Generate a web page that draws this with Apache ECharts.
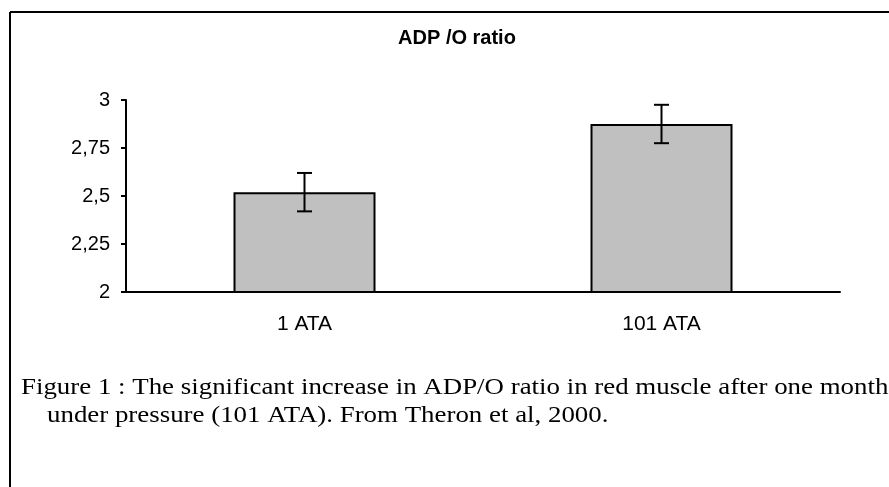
<!DOCTYPE html>
<html>
<head>
<meta charset="utf-8">
<script src="https://cdn.jsdelivr.net/npm/echarts@6/dist/echarts.min.js"></script>
<style>
  html, body { margin: 0; padding: 0; background: #fff; }
  #chart { width: 889px; height: 487px; }
</style>
</head>
<body>
<div id="chart"></div>
<script>
// ADP/O ratio by pressure group, mean and error
var categories = ['1 ATA', '101 ATA'];
var means = [2.52, 2.875];
var errors = [0.10, 0.10];
var yTicks = [2, 2.25, 2.5, 2.75, 3];

var titleText = 'ADP /O ratio';
var captionLines = [
  'Figure 1 : The significant increase in ADP/O ratio in red muscle after one month',
  'under pressure (101 ATA). From Theron et al, 2000.'
];

var errorData = means.map(function (m, i) { return [i, m - errors[i], m + errors[i]]; });

var sans = '"Liberation Sans", Arial, sans-serif';
var serif = '"Liberation Serif", "Times New Roman", serif';

var chart = echarts.init(document.getElementById('chart'), null, { renderer: 'canvas' });

chart.setOption({
  animation: false,
  backgroundColor: '#ffffff',
  title: {
    text: titleText,
    left: 452,
    textAlign: 'center',
    top: 23,
    textStyle: { fontFamily: sans, fontSize: 20, fontWeight: 'bold', color: '#000' }
  },
  grid: { left: 126, right: 49, top: 100, bottom: 195, containLabel: false },
  xAxis: {
    type: 'category',
    data: categories,
    axisLine: { lineStyle: { color: '#000', width: 2 } },
    axisTick: { show: false },
    axisLabel: { color: '#000', fontSize: 21, fontFamily: sans, margin: 22 },
    splitLine: { show: false }
  },
  yAxis: {
    type: 'value',
    min: yTicks[0],
    max: yTicks[yTicks.length - 1],
    interval: 0.25,
    axisLine: { show: true, lineStyle: { color: '#000', width: 2 } },
    axisTick: { show: true, inside: false, length: 5, lineStyle: { color: '#000', width: 2 } },
    axisLabel: {
      color: '#000', fontSize: 20, fontFamily: sans, margin: 16,
      formatter: function (v) { return String(v).replace('.', ','); }
    },
    splitLine: { show: false }
  },
  series: [
    {
      type: 'bar',
      data: means,
      barWidth: 142,
      itemStyle: { color: '#c0c0c0', borderColor: '#000', borderWidth: 2 }
    },
    {
      type: 'custom',
      data: errorData,
      z: 10,
      renderItem: function (params, api) {
        var lo = api.coord([api.value(0), api.value(1)]);
        var hi = api.coord([api.value(0), api.value(2)]);
        var cap = 7.5;
        var style = { stroke: '#000', lineWidth: 2 };
        return {
          type: 'group',
          children: [
            { type: 'line', shape: { x1: hi[0], y1: hi[1], x2: lo[0], y2: lo[1] }, style: style },
            { type: 'line', shape: { x1: hi[0] - cap, y1: hi[1], x2: hi[0] + cap, y2: hi[1] }, style: style },
            { type: 'line', shape: { x1: lo[0] - cap, y1: lo[1], x2: lo[0] + cap, y2: lo[1] }, style: style }
          ]
        };
      }
    }
  ],
  graphic: [
    { type: 'line', shape: { x1: 10, y1: 12, x2: 889, y2: 12 }, style: { stroke: '#000', lineWidth: 2 } },
    { type: 'line', shape: { x1: 10, y1: 12, x2: 10, y2: 487 }, style: { stroke: '#000', lineWidth: 2 } },
    {
      type: 'text', x: 21, y: 388, scaleX: 1.12,
      style: { text: captionLines[0], font: '24px ' + serif, fill: '#000', verticalAlign: 'middle' }
    },
    {
      type: 'text', x: 47, y: 416, scaleX: 1.12,
      style: { text: captionLines[1], font: '24px ' + serif, fill: '#000', verticalAlign: 'middle' }
    }
  ]
});
</script>
</body>
</html>
